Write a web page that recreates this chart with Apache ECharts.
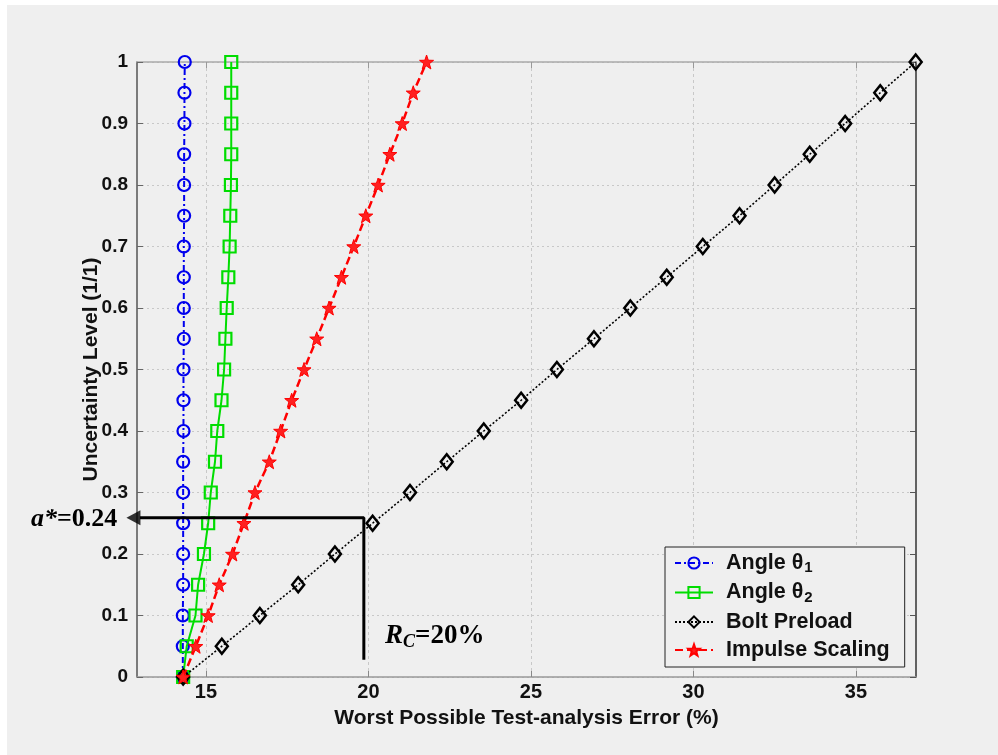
<!DOCTYPE html>
<html>
<head>
<meta charset="utf-8">
<script src="https://cdn.jsdelivr.net/npm/echarts@6/dist/echarts.min.js"></script>
<style>
html,body{margin:0;padding:0;background:#ffffff;}
#chart{width:998px;height:755px;}
</style>
</head>
<body>
<div id="chart"></div>
<script>
// ---- data ----
const uncertaintyLevels = [0,0.05,0.1,0.15,0.2,0.25,0.3,0.35,0.4,0.45,0.5,0.55,0.6,0.65,0.7,0.75,0.8,0.85,0.9,0.95,1];
const angleTheta1 = [14.29,14.29,14.29,14.30,14.30,14.30,14.30,14.30,14.31,14.31,14.31,14.32,14.32,14.32,14.32,14.33,14.33,14.33,14.34,14.34,14.35];
const angleTheta2 = [14.30,14.41,14.68,14.76,14.94,15.07,15.15,15.28,15.35,15.48,15.56,15.60,15.64,15.69,15.73,15.75,15.77,15.78,15.78,15.78,15.78];
const boltPreload = [14.30,15.49,16.66,17.84,18.97,20.13,21.28,22.41,23.55,24.70,25.80,26.94,28.06,29.18,30.29,31.42,32.50,33.58,34.67,35.75,36.84];
const impulseScaling = [14.30,14.69,15.07,15.41,15.82,16.17,16.51,16.95,17.30,17.64,18.02,18.41,18.79,19.17,19.55,19.92,20.30,20.66,21.04,21.38,21.79];
const seriesNames = ['Angle θ1','Angle θ2','Bolt Preload','Impulse Scaling'];
const xTickValues = [15,20,25,30,35];
const xMin = 12.88, xMax = 36.85;
// annotation (data units)
const rcValue = 19.86;          // R_C = 20 % vertical line
const rcBottom = 0.028;
const aStarLevel = 0.259;       // horizontal arrow level
const arrowBaseX = 12.97;
const arrowHeadX = 12.77;

const F = "'Liberation Sans', Arial, Helvetica, sans-serif";
const FS = "'Liberation Serif', 'Times New Roman', serif";

function pairs(xs){ return xs.map((x,i)=>[x, uncertaintyLevels[i]]); }

const starPath = 'path://M0,-10 L2.35,-3.24 L9.51,-3.09 L3.8,1.24 L5.88,8.09 L0,4.2 L-5.88,8.09 L-3.8,1.24 L-9.51,-3.09 L-2.35,-3.24 Z';

const chart = echarts.init(document.getElementById('chart'));
chart.setOption({
  backgroundColor: '#ffffff',
  animation: false,
  graphic: [
    {type:'rect', left:7, top:5, shape:{width:991, height:750}, style:{fill:'#efefef'}, z:-100, silent:true},
    {type:'text', left:31, top:506, z:100,
      style:{text:'{i|a*}{n|=0.24}', fill:'#000',
        rich:{ i:{fontFamily:FS, fontStyle:'italic', fontWeight:'bold', fontSize:26, fill:'#000'},
               n:{fontFamily:FS, fontWeight:'bold', fontSize:26, fill:'#000'} } } },
    {type:'text', left:385, top:623, z:100,
      style:{text:'{i|R}{s|C}{n|=20%}', fill:'#000',
        rich:{ i:{fontFamily:FS, fontStyle:'italic', fontWeight:'bold', fontSize:27, fill:'#000'},
               s:{fontFamily:FS, fontStyle:'italic', fontWeight:'bold', fontSize:18, fill:'#000', verticalAlign:'bottom', padding:[12,0,0,0]},
               n:{fontFamily:FS, fontWeight:'bold', fontSize:27, fill:'#000'} } } }
  ],
  grid: {left:137, top:62, right:82, bottom:78, containLabel:false},
  legend: {
    data: seriesNames,
    orient: 'vertical',
    left: 665, top: 547,
    padding: [5,15,6,9],
    itemWidth: 38, itemHeight: 14, itemGap: 6,
    borderColor: '#222', borderWidth: 1,
    backgroundColor: '#efefef',
    formatter: n => n.replace(/θ(\d)/, 'θ{sub|$1}'),
    textStyle: {fontFamily:F, fontWeight:'bold', fontSize:21.5, color:'#111', padding:[0,0,0,8],
      rich:{ sub:{fontFamily:F, fontWeight:'bold', fontSize:15, color:'#111', verticalAlign:'bottom', padding:[10,0,0,1]} } }
  },
  xAxis: [
    {type:'value', min:xMin, max:xMax, position:'bottom',
     name:'Worst Possible Test-analysis Error (%)', nameLocation:'middle', nameGap:31, nameMoveOverlap:false,
     nameTextStyle:{fontFamily:F, fontWeight:'bold', fontSize:21, color:'#111'},
     axisLine:{show:true, lineStyle:{color:'#999', width:1.5}},
     axisTick:{show:true, inside:true, length:6, customValues:xTickValues, lineStyle:{color:'#888'}},
     axisLabel:{customValues:xTickValues, fontFamily:F, fontWeight:'bold', fontSize:20, color:'#111', margin:5},
     splitLine:{show:true, lineStyle:{color:'#c8c8c8', type:[3,3], width:1}}},
    {type:'value', min:xMin, max:xMax, position:'top',
     axisLine:{show:true, onZero:false, lineStyle:{color:'#aaa', width:1.5}},
     axisTick:{show:true, inside:true, length:6, customValues:xTickValues, lineStyle:{color:'#999'}},
     axisLabel:{show:false}, splitLine:{show:false}}
  ],
  yAxis: [
    {type:'value', min:0, max:1, interval:0.1,
     name:'Uncertainty Level (1/1)', nameLocation:'middle', nameGap:35, nameMoveOverlap:false,
     nameTextStyle:{fontFamily:F, fontWeight:'bold', fontSize:21, color:'#111'},
     axisLine:{show:true, onZero:false, lineStyle:{color:'#555', width:1.5}},
     axisTick:{show:true, inside:true, length:6, lineStyle:{color:'#666'}},
     axisLabel:{fontFamily:F, fontWeight:'bold', fontSize:19, color:'#111', margin:9},
     splitLine:{show:true, lineStyle:{color:'#c8c8c8', type:[2,3], width:1.2}}},
    {type:'value', min:0, max:1, interval:0.1, position:'right',
     axisLine:{show:true, onZero:false, lineStyle:{color:'#333', width:1.5}},
     axisTick:{show:true, inside:true, length:6, lineStyle:{color:'#555'}},
     axisLabel:{show:false}, splitLine:{show:false}}
  ],
  series: [
    {name:seriesNames[0], type:'line', data:pairs(angleTheta1),
     symbol:'circle', symbolSize:12,
     lineStyle:{color:'#0000ee', width:2, type:[6,3,2,3]},
     itemStyle:{color:'rgba(0,0,0,0)', borderColor:'#0000ee', borderWidth:2.2}, z:3},
    {name:seriesNames[1], type:'line', data:pairs(angleTheta2),
     symbol:'rect', symbolSize:12,
     lineStyle:{color:'#00dd00', width:2, type:'solid'},
     itemStyle:{color:'rgba(0,0,0,0)', borderColor:'#00dd00', borderWidth:2.2}, z:4},
    {name:seriesNames[2], type:'line', data:pairs(boltPreload),
     symbol:'diamond', symbolSize:[12,15],
     lineStyle:{color:'#000000', width:1.6, type:[2,2]},
     itemStyle:{color:'rgba(0,0,0,0)', borderColor:'#000000', borderWidth:2.5}, z:5},
    {name:seriesNames[3], type:'line', data:pairs(impulseScaling),
     symbol:starPath, symbolSize:14,
     lineStyle:{color:'#ff0000', width:2.5, type:[8,4]},
     itemStyle:{color:'#ff2020', borderColor:'#ff0000', borderWidth:1}, z:6},
    {name:'annotation', type:'line', data:[[rcValue, rcBottom],[rcValue, aStarLevel],[arrowBaseX, aStarLevel]],
     symbol:'none', clip:false, silent:true, z:10,
     lineStyle:{color:'#000', width:3}},
    {name:'arrowhead', type:'scatter', data:[[arrowHeadX, aStarLevel]], clip:false, silent:true, z:10,
     symbol:'triangle', symbolSize:[15,14], symbolRotate:90, itemStyle:{color:'#000'}}
  ]
});
</script>
</body>
</html>
